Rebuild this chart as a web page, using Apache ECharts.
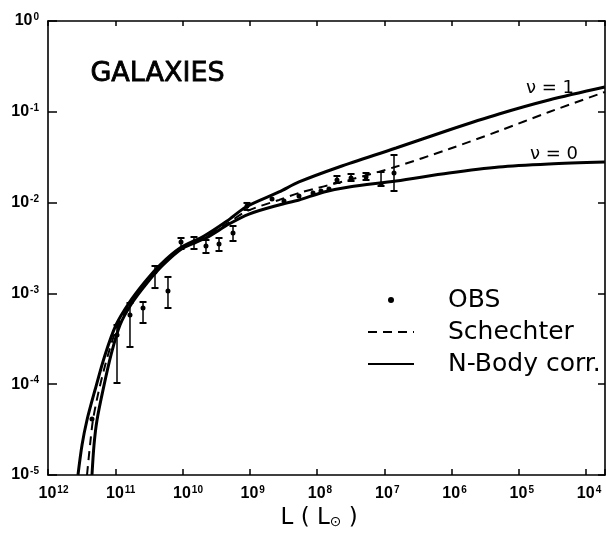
<!DOCTYPE html>
<html><head><meta charset="utf-8">
<script src="https://cdn.jsdelivr.net/npm/echarts@6/dist/echarts.min.js"></script>
<style>html,body{margin:0;padding:0;background:#fff}#c{width:606px;height:545px}</style>
</head><body><div id="c"></div>
<script>
// All values are log10 exponents: L in solar luminosities, Phi per decade
const nbodyNu1LogL   = [11.554, 11.494, 11.420, 11.301, 11.152, 10.989, 10.796, 10.572, 10.335, 10.037, 9.680, 9.338, 9.056, 8.565, 8.268, 7.673, 6.825, 6.037, 5.294, 4.550, 3.72];
const nbodyNu1LogPhi = [-5.0, -4.670, -4.394, -4.064, -3.678, -3.348, -3.106, -2.885, -2.687, -2.500, -2.368, -2.203, -2.048, -1.883, -1.773, -1.608, -1.399, -1.200, -1.024, -0.870, -0.727];

const nbodyNu0LogL   = [11.346, 11.316, 11.271, 11.182, 11.063, 10.929, 10.751, 10.528, 10.290, 9.993, 9.651, 9.309, 9.011, 8.565, 8.268, 7.896, 7.524, 6.825, 6.037, 5.294, 4.550, 3.72];
const nbodyNu0LogPhi = [-5.0, -4.670, -4.394, -4.064, -3.678, -3.348, -3.106, -2.885, -2.687, -2.500, -2.390, -2.236, -2.126, -2.026, -1.971, -1.883, -1.828, -1.762, -1.674, -1.608, -1.575, -1.553];

const schechterLogL   = [11.420, 11.375, 11.331, 11.242, 11.108, 10.959, 10.766, 10.543, 10.305, 10.007, 9.665, 9.323, 9.041, 8.565, 8.268, 7.524, 6.840, 6.037, 5.294, 4.550, 3.72];
const schechterLogPhi = [-5.0, -4.670, -4.394, -4.064, -3.678, -3.348, -3.106, -2.885, -2.687, -2.500, -2.379, -2.225, -2.093, -1.971, -1.894, -1.751, -1.608, -1.410, -1.211, -1.002, -0.782];

const obsLogL   = [11.346, 10.974, 10.781, 10.587, 10.409, 10.216, 10.022, 9.829, 9.651, 9.457, 9.249, 9.041, 8.669, 8.491, 8.268, 8.059, 7.941, 7.822, 7.703, 7.494, 7.271, 7.048, 6.855];
const obsLogPhi = [-4.383, -3.458, -3.238, -3.161, -2.764, -2.974, -2.434, -2.434, -2.478, -2.456, -2.335, -2.037, -1.960, -1.982, -1.927, -1.894, -1.872, -1.850, -1.751, -1.729, -1.718, -1.795, -1.674];
const obsLogLo  = [null, -3.987, -3.590, -3.326, -2.941, -3.161, -2.511, -2.511, -2.555, -2.533, -2.423, -2.081, null, null, null, null, null, null, -1.784, -1.762, -1.751, -1.817, -1.872];
const obsLogHi  = [null, -3.348, -3.106, -3.095, -2.698, -2.819, -2.390, -2.379, -2.412, -2.390, -2.258, -2.004, null, null, null, null, null, null, -1.707, -1.685, -1.674, -1.663, -1.476];

const xAxisMaxL = 1e12;
const xAxisMinL = 5220;
const yAxisMinPhi = 1e-5;
const yAxisMaxPhi = 1;

const p10 = e => Math.pow(10, e);
const pairs = (a, b) => a.map((v, i) => [p10(v), p10(b[i])]);
const errData = obsLogL.map((v, i) => obsLogLo[i] == null ? null : [p10(v), p10(obsLogPhi[i]), p10(obsLogLo[i]), p10(obsLogHi[i])]).filter(d => d);

const tickFont = '"Liberation Sans Narrow", "Liberation Sans", sans-serif';
const textFont = '"DejaVu Sans", sans-serif';

function expOf(v) { const e = Math.log10(v); const r = Math.round(e); return Math.abs(e - r) < 1e-6 ? r : null; }

const richTicks = {
  b: { fontFamily: tickFont, fontWeight: 'bold', fontSize: 16, lineHeight: 17, color: '#000' },
  s: { fontFamily: tickFont, fontWeight: 'bold', fontSize: 10, lineHeight: 10, verticalAlign: 'top', color: '#000', padding: [0, 0, 0, 1] },
  sp1: { width: 6, fontSize: 10 },
  sp2: { width: 11, fontSize: 10 }
};

const axisLineStyle = { color: '#000', width: 1.6 };

const option = {
  backgroundColor: '#fff',
  animation: false,
  grid: { left: 48, right: 1, top: 21, bottom: 70, outerBoundsMode: 'none' },
  legend: {
    orient: 'vertical', left: 362, top: 282,
    itemWidth: 46, itemHeight: 6, itemGap: 6,
    selectedMode: false,
    textStyle: { fontFamily: textFont, fontSize: 25, lineHeight: 26, color: '#000', padding: [0, 0, 0, 29] },
    data: [
      { name: 'OBS', icon: 'circle', itemStyle: { color: '#000', opacity: 1 } },
      { name: 'Schechter', itemStyle: { opacity: 0 } },
      { name: 'N-Body corr.', itemStyle: { opacity: 0 } }
    ]
  },
  xAxis: [{
    type: 'log', inverse: true, min: xAxisMinL, max: xAxisMaxL,
    position: 'bottom',
    axisLine: { lineStyle: axisLineStyle },
    axisTick: { inside: true, length: 6, lineStyle: { color: '#000', width: 1.5 } },
    splitLine: { show: false }, minorTick: { show: false },
    axisLabel: {
      margin: 10, rich: richTicks,
      formatter: v => { const r = expOf(v); if (r === null) return ''; const s = String(r); return '{sp' + s.length + '| }{b|10}{s|' + s + '}'; }
    },
    name: 'L ( L{sub|⊙} )  ', nameLocation: 'middle', nameGap: 31,
    nameTextStyle: {
      fontFamily: textFont, fontSize: 23, color: '#000',
      rich: { sub: { fontFamily: textFont, fontSize: 14, color: '#000', verticalAlign: 'bottom', lineHeight: 12 } }
    }
  }, {
    type: 'log', inverse: true, min: xAxisMinL, max: xAxisMaxL,
    position: 'top',
    axisLine: { lineStyle: axisLineStyle },
    axisTick: { inside: true, length: 5, lineStyle: { color: '#000', width: 1.5 } },
    axisLabel: { show: false }, splitLine: { show: false }
  }],
  yAxis: [{
    type: 'log', min: yAxisMinPhi, max: yAxisMaxPhi,
    position: 'left',
    axisLine: { lineStyle: axisLineStyle },
    axisTick: { inside: true, length: 9, lineStyle: { color: '#000', width: 1.5 } },
    splitLine: { show: false }, minorTick: { show: false },
    axisLabel: {
      margin: 9, rich: richTicks,
      formatter: v => { const r = expOf(v); if (r === null) return ''; return '{b|10}{s|' + (r === 0 ? '0' : String(r)) + '}'; }
    }
  }, {
    type: 'log', min: yAxisMinPhi, max: yAxisMaxPhi,
    position: 'right',
    axisLine: { lineStyle: axisLineStyle },
    axisTick: { inside: true, length: 7, lineStyle: { color: '#000', width: 1.5 } },
    axisLabel: { show: false }, splitLine: { show: false }
  }],
  series: [
    {
      name: 'N-Body corr.', type: 'line', smooth: 0.3, symbol: 'none',
      lineStyle: { color: '#000', width: 3 }, itemStyle: { color: '#000' },
      data: pairs(nbodyNu1LogL, nbodyNu1LogPhi), z: 3
    },
    {
      name: 'N-Body corr.', type: 'line', smooth: 0.3, symbol: 'none',
      lineStyle: { color: '#000', width: 3 }, itemStyle: { color: '#000' },
      data: pairs(nbodyNu0LogL, nbodyNu0LogPhi), z: 3
    },
    {
      name: 'Schechter', type: 'line', smooth: 0.3, symbol: 'none',
      lineStyle: { color: '#000', width: 2, type: [9, 6] }, itemStyle: { color: '#000' },
      data: pairs(schechterLogL, schechterLogPhi), z: 3
    },
    {
      name: 'OBS err', type: 'custom',
      renderItem: function (params, api) {
        const L = api.value(0);
        const a = api.coord([L, api.value(2)]);
        const b = api.coord([L, api.value(3)]);
        const w = 3.5;
        return {
          type: 'group', children: [
            { type: 'line', shape: { x1: a[0], y1: a[1], x2: b[0], y2: b[1] }, style: { stroke: '#000', lineWidth: 1.5 } },
            { type: 'line', shape: { x1: a[0] - w, y1: a[1], x2: a[0] + w, y2: a[1] }, style: { stroke: '#000', lineWidth: 2 } },
            { type: 'line', shape: { x1: b[0] - w, y1: b[1], x2: b[0] + w, y2: b[1] }, style: { stroke: '#000', lineWidth: 2 } }
          ]
        };
      },
      data: errData, z: 4
    },
    {
      name: 'OBS', type: 'scatter', symbol: 'circle', symbolSize: 5,
      itemStyle: { color: '#000', opacity: 1 },
      data: pairs(obsLogL, obsLogPhi), z: 5
    }
  ],
  graphic: [
    { type: 'text', left: 90, top: 60, style: { text: 'GALAXIES', font: '27px "DejaVu Sans", sans-serif', fill: '#000', stroke: '#000', lineWidth: 0.8 } },
    { type: 'text', left: 526, top: 79, style: { text: 'ν = 1', font: '18px "DejaVu Sans", sans-serif', fill: '#000' } },
    { type: 'text', left: 530, top: 145, style: { text: 'ν = 0', font: '18px "DejaVu Sans", sans-serif', fill: '#000' } }
  ]
};

const chart = echarts.init(document.getElementById('c'), null, { renderer: 'canvas' });
chart.setOption(option);
</script>
</body></html>
